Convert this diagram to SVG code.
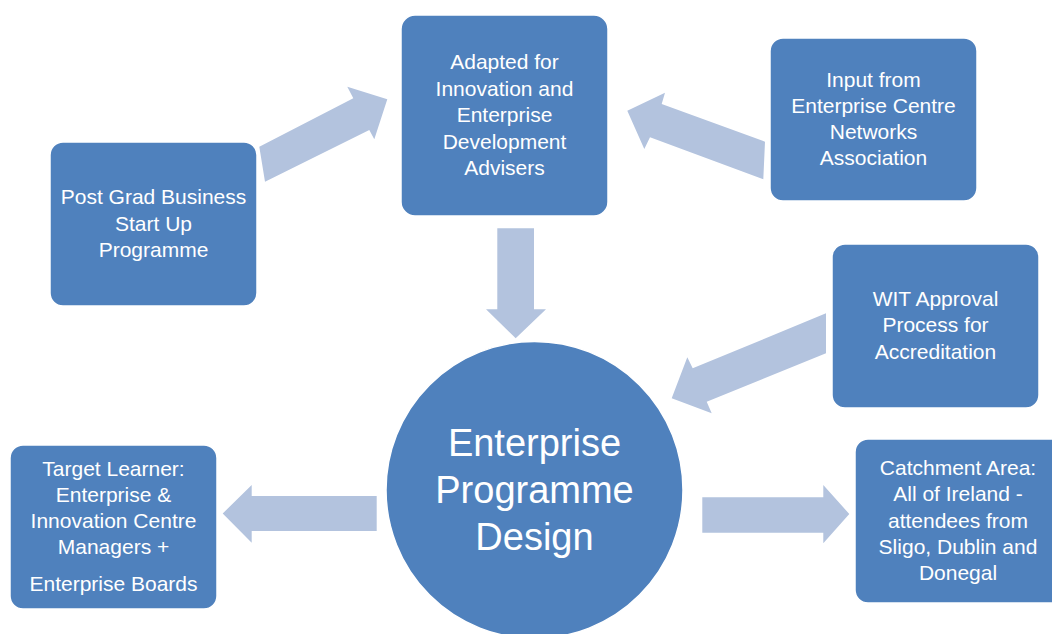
<svg xmlns="http://www.w3.org/2000/svg" width="1052" height="634" viewBox="0 0 1052 634">
<style>
.box{fill:#4F81BD;stroke:#ffffff;stroke-width:1.5}
.arr{fill:#B3C3DE}
.t{font-family:"Liberation Sans",Arial,sans-serif;font-size:21px;fill:#ffffff;text-anchor:middle}
.big{font-family:"Liberation Sans",Arial,sans-serif;font-size:38px;fill:#ffffff;text-anchor:middle}
</style>
<rect width="1052" height="634" fill="#ffffff"/>
<g id="connectors">
<polygon class="arr" points="259.3,146.7 353.3,98.3 347.3,86.7 387.3,99.3 374.3,139.3 369.3,130 265,181.7"/>
<polygon class="arr" points="765,141.7 661.7,104 665,92.7 627.3,110.7 644.3,149 650,137.3 763.3,179.3"/>
<polygon class="arr" points="497.3,228.3 534,228.3 534,309.3 546,309.3 515.7,338.3 486,309.3 497.3,309.3"/>
<polygon class="arr" points="826,313.3 692.7,368.3 687.3,357.3 671.7,398.3 711.7,413.3 706.7,401.7 826,353.3"/>
<polygon class="arr" points="376.7,496 251.7,496 251.7,485 222.7,513.5 251.7,542.7 251.7,531 376.7,531"/>
<polygon class="arr" points="702.3,497.3 823.3,497.3 823.3,485 849.3,514 823.3,543.3 823.3,532.7 702.3,532.7"/>
</g>
<g id="post-grad">
<rect class="box" x="50" y="142" width="207" height="164" rx="13"/>
<text class="t" x="153.5" y="204">Post Grad Business</text>
<text class="t" x="153.5" y="231">Start Up</text>
<text class="t" x="153.5" y="257">Programme</text>
</g>
<g id="adapted">
<rect class="box" x="401" y="15" width="207" height="201" rx="14"/>
<text class="t" x="504.5" y="69">Adapted for</text>
<text class="t" x="504.5" y="96">Innovation and</text>
<text class="t" x="504.5" y="122">Enterprise</text>
<text class="t" x="504.5" y="149">Development</text>
<text class="t" x="504.5" y="175">Advisers</text>
</g>
<g id="input">
<rect class="box" x="770" y="38" width="207" height="163" rx="13"/>
<text class="t" x="873.5" y="87">Input from</text>
<text class="t" x="873.5" y="113">Enterprise Centre</text>
<text class="t" x="873.5" y="139">Networks</text>
<text class="t" x="873.5" y="165">Association</text>
</g>
<g id="wit">
<rect class="box" x="832" y="244" width="207" height="164" rx="13"/>
<text class="t" x="935.5" y="306">WIT Approval</text>
<text class="t" x="935.5" y="332">Process for</text>
<text class="t" x="935.5" y="359">Accreditation</text>
</g>
<g id="target">
<rect class="box" x="10" y="445" width="207" height="164" rx="13"/>
<text class="t" x="113.5" y="476">Target Learner:</text>
<text class="t" x="113.5" y="502">Enterprise &amp;</text>
<text class="t" x="113.5" y="528">Innovation Centre</text>
<text class="t" x="113.5" y="554">Managers +</text>
<text class="t" x="113.5" y="591">Enterprise Boards</text>
</g>
<g id="catchment">
<rect class="box" x="855" y="439" width="210" height="164" rx="13"/>
<text class="t" x="958" y="475">Catchment Area:</text>
<text class="t" x="958" y="501">All of Ireland -</text>
<text class="t" x="958" y="528">attendees from</text>
<text class="t" x="958" y="554">Sligo, Dublin and</text>
<text class="t" x="958" y="580">Donegal</text>
</g>
<g id="center">
<circle class="box" cx="534.5" cy="490" r="148.5"/>
<text class="big" x="534.5" y="456">Enterprise</text>
<text class="big" x="534.5" y="503">Programme</text>
<text class="big" x="534.5" y="550">Design</text>
</g>
</svg>
